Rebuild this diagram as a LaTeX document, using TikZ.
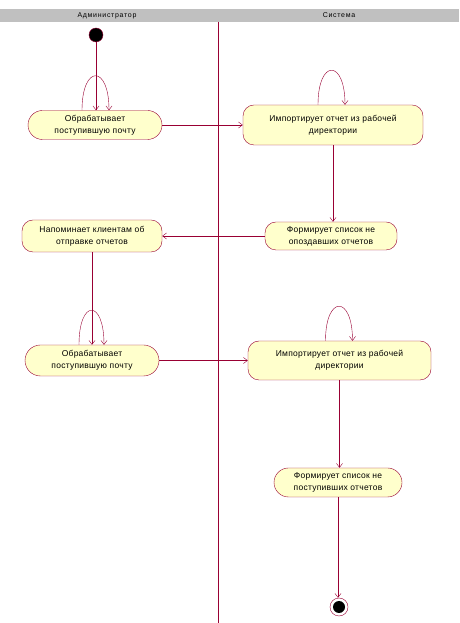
\documentclass[tikz,border=0pt]{standalone}
\usepackage{fontspec}
\setmainfont[LetterSpace=3]{Liberation Sans}
\newfontfamily\lanefont[LetterSpace=10]{Liberation Sans}
\usetikzlibrary{shapes.misc,arrows.meta}
\definecolor{umlred}{HTML}{990033}
\definecolor{umlfill}{HTML}{FFFFCC}
\definecolor{lanegray}{HTML}{C0C0C0}
\begin{document}
\begin{tikzpicture}[
        x=1pt, y=1pt,
        every node/.style={font=\fontsize{8.5}{12}\selectfont},
        act/.style={draw=umlred, fill=umlfill, align=center, inner sep=1pt},
        act_round/.style={act, rounded rectangle},
        act_cham/.style={act, rectangle, rounded corners=11pt},
        lane/.style={font=\lanefont\fontsize{7}{8}\selectfont},
        flow/.style={draw=umlred, -{Straight Barb[length=4pt,width=6pt]}}
    ]

        \useasboundingbox (0,0) rectangle (459,623);
        \fill[white] (0,0) rectangle (459,623);
        \fill[lanegray] (0,601) rectangle (459,614);
        \node[lane] (lane_adm) at (107,607.5) {Администратор};
        \node[lane] (lane_sys) at (339,607.5) {Система};
        \draw[umlred] (218,601) -- (218,0);

        \node[circle, draw=umlred, fill=black, minimum size=14pt, inner sep=0pt] (init) at (96,588) {};

        \node[act_round, minimum width=136pt, minimum height=29pt] (mail1) at (95,498)     {Обрабатывает\\поступившую почту};
        \node[act_cham,  minimum width=180pt, minimum height=40pt] (import1) at (333,498)  {Импортирует отчет из рабочей\\директории};
        \node[act_cham,  minimum width=132pt, minimum height=28pt] (list_late) at (331,387) {Формирует список не\\опоздавших отчетов};
        \node[act_cham,  minimum width=140pt, minimum height=32pt] (remind) at (92,387)    {Напоминает клиентам об\\отправке отчетов};
        \node[act_round, minimum width=136pt, minimum height=31pt] (mail2) at (92,262.5)   {Обрабатывает\\поступившую почту};
        \node[act_cham,  minimum width=183pt, minimum height=39pt] (import2) at (339.5,262.5) {Импортирует отчет из рабочей\\директории};
        \node[act_round, minimum width=130pt, minimum height=29pt] (list_miss) at (338,140.5) {Формирует список не\\поступивших отчетов};

        \node[circle, draw=umlred, fill=white, minimum size=18pt, inner sep=0pt] (final) at (339,16) {};
        \node[circle, fill=black, minimum size=12pt, inner sep=0pt] (final_dot) at (final) {};

        \draw[flow] (init) -- (init |- mail1.north);
        \draw[flow] ([xshift=-13pt]mail1.north) .. controls +(0,46) and +(0,46) .. ([xshift=14pt]mail1.north);
        \draw[flow] (mail1.east) -- (mail1.east -| import1.west);
        \draw[flow] ([xshift=-15pt]import1.north) .. controls +(0,46) and +(0,46) .. ([xshift=12pt]import1.north);
        \draw[flow] (import1.south) -- (import1.south |- list_late.north);
        \draw[flow] (list_late.west) -- (list_late.west -| remind.east);
        \draw[flow] (remind.south) -- (remind.south |- mail2.north);
        \draw[flow] ([xshift=-13pt]mail2.north) .. controls +(0,46) and +(0,46) .. ([xshift=12pt]mail2.north);
        \draw[flow] (mail2.east) -- (mail2.east -| import2.west);
        \draw[flow] ([xshift=-14pt]import2.north) .. controls +(0,46) and +(0,46) .. ([xshift=13pt]import2.north);
        \draw[flow] (import2.south) -- (import2.south |- list_miss.north);
        \draw[flow] (list_miss.south) -- (list_miss.south |- final.north);

    \end{tikzpicture}
\end{document}
